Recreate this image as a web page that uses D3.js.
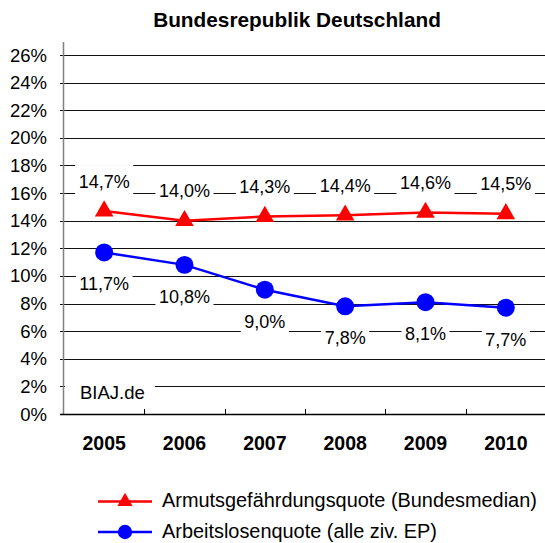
<!DOCTYPE html>
<html>
<head>
<meta charset="utf-8">
<script src="https://cdn.jsdelivr.net/npm/d3@7"></script>
<style>
  body { margin: 0; background: #fff; }
  svg { display: block; font-family: "Liberation Sans", Arial, sans-serif; }
</style>
</head>
<body>
<div id="viscontainer"></div>
<script>
const years = ["2005", "2006", "2007", "2008", "2009", "2010"];
const armutsquote = [14.7, 14.0, 14.3, 14.4, 14.6, 14.5];
const arbeitslosenquote = [11.7, 10.8, 9.0, 7.8, 8.1, 7.7];
const yTicks = [0, 2, 4, 6, 8, 10, 12, 14, 16, 18, 20, 22, 24, 26];

const width = 545;
const height = 543;
const plotLeft = 64, plotRight = 546, plotTop = 42, plotBottom = 414;

const de = d3.formatLocale({ decimal: ",", thousands: ".", grouping: [3], currency: ["", " €"] });
const fmt = v => de.format(".1f")(v) + "%";

const svg = d3.select("#viscontainer").append("svg")
  .attr("width", width)
  .attr("height", height);

const x = d3.scaleBand().domain(years).range([plotLeft, plotRight]);
const y = d3.scaleLinear().domain([0, 26]).range([plotBottom, 55]);

// gridlines
svg.append("g")
  .selectAll("line")
  .data(yTicks.filter(d => d > 0))
  .join("line")
  .attr("x1", plotLeft - 4)
  .attr("x2", plotRight)
  .attr("y1", d => Math.round(y(d)) + 0.5)
  .attr("y2", d => Math.round(y(d)) + 0.5)
  .attr("stroke", "#111")
  .attr("stroke-width", 1);

// y axis line + labels
svg.append("line")
  .attr("x1", plotLeft - 0.5).attr("x2", plotLeft - 0.5)
  .attr("y1", plotTop).attr("y2", plotBottom + 0.5)
  .attr("stroke", "#808080").attr("stroke-width", 1.5);

svg.append("g")
  .selectAll("text")
  .data(yTicks)
  .join("text")
  .attr("x", 47)
  .attr("y", d => y(d) + 6.5)
  .attr("text-anchor", "end")
  .attr("font-size", 18.5)
  .attr("fill", "#000")
  .text(d => d + "%");

// x axis
svg.append("line")
  .attr("x1", plotLeft - 4).attr("x2", plotRight)
  .attr("y1", plotBottom + 0.5).attr("y2", plotBottom + 0.5)
  .attr("stroke", "#000").attr("stroke-width", 1.5);

svg.append("g")
  .selectAll("line")
  .data(years.slice(1))
  .join("line")
  .attr("x1", d => Math.round(x(d)) + 0.5)
  .attr("x2", d => Math.round(x(d)) + 0.5)
  .attr("y1", plotBottom)
  .attr("y2", plotBottom - 5)
  .attr("stroke", "#000");

svg.append("g")
  .selectAll("text")
  .data(years)
  .join("text")
  .attr("x", d => x(d) + x.bandwidth() / 2)
  .attr("y", 450)
  .attr("text-anchor", "middle")
  .attr("font-size", 19.5)
  .attr("font-weight", "bold")
  .text(d => d);

// title
svg.append("text")
  .attr("x", 297)
  .attr("y", 27)
  .attr("text-anchor", "middle")
  .attr("font-size", 20.8)
  .attr("font-weight", "bold")
  .text("Bundesrepublik Deutschland");

const cx = d => x(d) + x.bandwidth() / 2;

function labelBox(g, xc, baseline, txt) {
  const rect = g.append("rect").attr("fill", "#fff");
  const t = g.append("text")
    .attr("x", xc).attr("y", baseline)
    .attr("text-anchor", "middle")
    .attr("font-size", 18)
    .text(txt);
  const w = t.node().getComputedTextLength() + 7;
  rect.attr("x", xc - w / 2).attr("y", baseline - 22.5)
    .attr("width", w).attr("height", 29.5);
}

// BIAJ.de
const biaj = svg.append("g");
biaj.append("rect").attr("x", plotLeft + 1).attr("y", 375).attr("width", 90).attr("height", 32).attr("fill", "#fff");
biaj.append("text").attr("x", 80).attr("y", 399).attr("font-size", 18.5).text("BIAJ.de");

// data labels
const labels = svg.append("g");
years.forEach((yr, i) => {
  labelBox(labels, cx(yr), y(armutsquote[i]) - 23.5, fmt(armutsquote[i]));
  labelBox(labels, cx(yr), y(arbeitslosenquote[i]) + 38, fmt(arbeitslosenquote[i]));
});

// lines
const line = d3.line().x((d, i) => cx(years[i])).y(d => y(d));

svg.append("path")
  .datum(armutsquote)
  .attr("d", line)
  .attr("fill", "none")
  .attr("stroke", "#ff0000")
  .attr("stroke-width", 2.5);

svg.append("path")
  .datum(arbeitslosenquote)
  .attr("d", line)
  .attr("fill", "none")
  .attr("stroke", "#0000ff")
  .attr("stroke-width", 2.5);

const tri = d3.symbol().type(d3.symbolTriangle).size(150);
const dot = d3.symbol().type(d3.symbolCircle).size(254);

svg.append("g")
  .selectAll("path")
  .data(armutsquote)
  .join("path")
  .attr("d", tri)
  .attr("transform", (d, i) => `translate(${cx(years[i])},${y(d)})`)
  .attr("fill", "#ff0000");

svg.append("g")
  .selectAll("path")
  .data(arbeitslosenquote)
  .join("path")
  .attr("d", dot)
  .attr("transform", (d, i) => `translate(${cx(years[i])},${y(d)})`)
  .attr("fill", "#0000ff");

// legend
const legend = [
  { name: "Armutsgefährdungsquote (Bundesmedian)", color: "#ff0000", sym: d3.symbol().type(d3.symbolTriangle).size(100), y: 501.5 },
  { name: "Arbeitslosenquote (alle ziv. EP)", color: "#0000ff", sym: d3.symbol().type(d3.symbolCircle).size(160), y: 532 }
];
const lg = svg.append("g")
  .selectAll("g")
  .data(legend)
  .join("g")
  .attr("transform", d => `translate(0,${d.y})`);
lg.append("line")
  .attr("x1", 98).attr("x2", 152)
  .attr("stroke", d => d.color).attr("stroke-width", 2.5);
lg.append("path")
  .attr("d", d => d.sym())
  .attr("transform", "translate(125,0)")
  .attr("fill", d => d.color);
lg.append("text")
  .attr("x", 162).attr("y", 5.5)
  .attr("font-size", 19.9)
  .text(d => d.name);
</script>
</body>
</html>
